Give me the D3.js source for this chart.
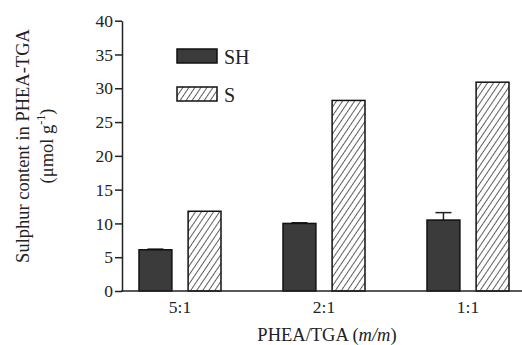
<!DOCTYPE html>
<html><head><meta charset="utf-8">
<script src="https://cdn.jsdelivr.net/npm/d3@7"></script>
<style>body{margin:0;background:#fff}svg{display:block}text{font-family:"Liberation Serif","Times New Roman",serif;fill:#222}</style>
</head><body>
<svg id="c" width="522" height="345"></svg>
<script>
const categories = ["5:1", "2:1", "1:1"];
const seriesNames = ["SH", "S"];
const shValues = [6.1, 10.0, 10.5];
const shErrors = [0.1, 0.1, 1.1];
const sValues = [11.8, 28.2, 30.9];
const yTicks = [0, 5, 10, 15, 20, 25, 30, 35, 40];

const svg = d3.select("#c");
const defs = svg.append("defs");
const pat = defs.append("pattern").attr("id", "hatch").attr("patternUnits", "userSpaceOnUse")
  .attr("width", 5).attr("height", 5).attr("patternTransform", "rotate(34)");
pat.append("rect").attr("width", 5).attr("height", 5).attr("fill", "#fff");
pat.append("line").attr("x1", 0).attr("y1", 0).attr("x2", 0).attr("y2", 5)
  .attr("stroke", "#1a1a1a").attr("stroke-width", 1.4);

const x0 = d3.scaleBand().domain(categories).range([108, 540]);
const x1 = d3.scaleBand().domain(seriesNames).range([-41, 41]).paddingInner(0.33);
const y = d3.scaleLinear().domain([0, 40]).range([291, 20.7]);

const data = categories.map((c, i) => ({c, sh: shValues[i], e: shErrors[i], s: sValues[i]}));

const g = svg.append("g");
data.forEach(d => {
  const cx = x0(d.c) + x0.bandwidth() / 2;
  const bx = cx + x1("SH") + x1.bandwidth() / 2;
  g.append("line").attr("x1", bx).attr("x2", bx).attr("y1", y(d.sh)).attr("y2", y(d.sh + d.e))
    .attr("stroke", "#222").attr("stroke-width", 1.5);
  g.append("line").attr("x1", bx - 8).attr("x2", bx + 8).attr("y1", y(d.sh + d.e)).attr("y2", y(d.sh + d.e))
    .attr("stroke", "#222").attr("stroke-width", 1.5);
  g.append("rect").attr("x", cx + x1("SH")).attr("width", x1.bandwidth())
    .attr("y", y(d.sh)).attr("height", y(0) - y(d.sh))
    .attr("fill", "#3b3b3b").attr("stroke", "#111").attr("stroke-width", 1.5);
  g.append("rect").attr("x", cx + x1("S")).attr("width", x1.bandwidth())
    .attr("y", y(d.s)).attr("height", y(0) - y(d.s))
    .attr("fill", "url(#hatch)").attr("stroke", "#111").attr("stroke-width", 1.5);
});

const yAxis = svg.append("g").attr("transform", "translate(122,0)")
  .call(d3.axisLeft(y).tickValues(yTicks).tickSize(7).tickPadding(2).tickSizeOuter(0));
yAxis.select(".domain").attr("stroke", "#222").attr("stroke-width", 1.5);
yAxis.selectAll(".tick line").attr("stroke", "#222").attr("stroke-width", 1.5);
yAxis.selectAll(".tick text").style("font-size", "17.5px").attr("fill", "#222");

const xAxis = svg.append("g").attr("transform", "translate(0,291)")
  .call(d3.axisBottom(x0).tickSize(0).tickPadding(10));
xAxis.select(".domain").remove();
svg.append("line").attr("x1", 121).attr("x2", 522).attr("y1", 291).attr("y2", 291)
  .attr("stroke", "#222").attr("stroke-width", 1.5);
xAxis.selectAll(".tick text").style("font-size", "17.5px").attr("fill", "#222");

const xt = svg.append("text").attr("x", 327).attr("y", 341).attr("text-anchor", "middle").style("font-size", "18.5px");
xt.append("tspan").text("PHEA/TGA (");
xt.append("tspan").attr("font-style", "italic").text("m/m");
xt.append("tspan").text(")");

const yt = svg.append("g").attr("transform", "translate(29,146) rotate(-90)");
yt.append("text").attr("text-anchor", "middle").attr("y", 0).style("font-size", "18.5px").text("Sulphur content in PHEA-TGA");
const yt2 = yt.append("text").attr("text-anchor", "middle").attr("y", 24).style("font-size", "18.5px");
yt2.append("tspan").text("(μmol g");
yt2.append("tspan").attr("dy", -8).style("font-size", "12px").text("-1");
yt2.append("tspan").attr("dy", 8).text(")");

const legend = svg.append("g");
const legItems = [{name: "SH", fill: "#3b3b3b", y: 49}, {name: "S", fill: "url(#hatch)", y: 87}];
legItems.forEach(it => {
  legend.append("rect").attr("x", 177).attr("y", it.y).attr("width", 40).attr("height", 14)
    .attr("fill", it.fill).attr("stroke", "#111").attr("stroke-width", 1.5);
  legend.append("text").attr("x", 224).attr("y", it.y + 15).style("font-size", "20px").text(it.name);
});
</script>
</body></html>
